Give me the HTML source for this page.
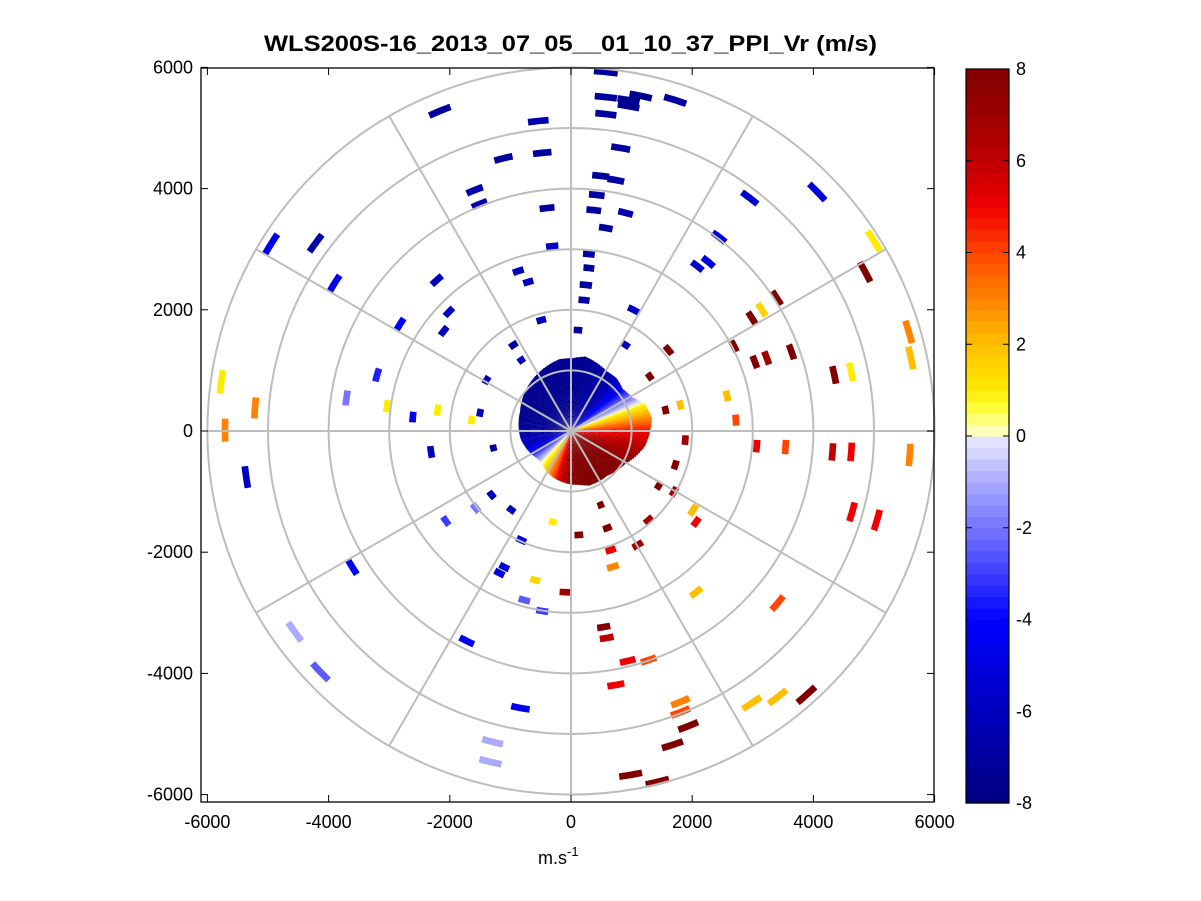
<!DOCTYPE html>
<html><head><meta charset="utf-8"><style>
body{margin:0;background:#fff;}
svg{display:block;font-family:"Liberation Sans",sans-serif;}
</style></head><body>
<svg id="c" width="1201" height="901"></svg>
<script>
const gateX=[-2165,-540,575,575,950,1150,1720,950,575,820,-1115,-475,490,740,-1590,-1510,-395,375,575,900,425,-310,295,295,245,215,-870,-705,-2215,-2015,-2100,
-4950,-4215,-3900,-2820,-3200,-3705,-3035,-2610,-2200,-2310,-5770,-5710,-5215,-5360,
4065,2950,2445,2265,2085,1030,
5000,4855,3395,3150,2985,2690,3640,3230,3035,4345,4625,5575,5610,2575,2720,3065,3540,4315,4625,5590,
5050,4640,2015,2065,2065,3410,690,655,540,590,935,1280,740,1805,1805,1935,1675,985,1425,2985,3410,3885,-100,-590,
-3610,-2065,-1575,-1180,-820,-770,-475,-1720,-835,-1295,-1330,-4560,-4135,-1100,
-950,-490,115,900,1610,1560,1805,1885,1720,1280,490,130,1100,-985,-1310,-1280,-1640,-1395,-820,1450,1300,-1500,1700,-300,600];
const gateY=[5280,5115,5925,5510,5460,5530,5460,5360,5230,4670,4500,4590,4210,4140,3975,3745,3680,3645,3350,3600,3895,3050,2920,2690,2410,2160,2640,2460,2490,1965,1650,
3085,3100,2440,1765,925,545,410,230,345,-345,810,15,380,-760,
3945,3845,3200,2790,2720,2000,
3135,2625,2195,2000,1865,1400,1305,1205,1140,925,975,1635,1205,580,180,-250,-265,-345,-345,-395,
-1470,-1335,-1305,-1500,-2660,-2840,-2240,-1965,-3235,-3415,-3795,-3780,-4190,-4470,-4640,-4870,-5180,-5675,-5790,-4490,-4390,-4355,-2660,-2460,
-2245,-1485,-1270,-2345,-1800,-2790,-2970,-3465,-4570,-5130,-5460,-3315,-3975,-2245,
1420,1830,1665,1420,1335,345,430,-150,-560,-1470,-1220,-1715,-1880,-1300,-1055,-280,180,840,1170,-900,900,300,-1000,-1500,-1600];
const gateV=[-7,-6.5,-7,-7,-7.5,-7.5,-7,-7.5,-7,-7,-7,-7,-7,-7,-6.5,-6.5,-7,-7,-7,-6.5,-7,-6,-7,-7,-7,-7,-6,-6,-6,-6,-6,
-4.5,-6.5,-4.5,-4,-3.5,-2,1,-4.5,1,-6,1,3,3,-6,
-5,-5.5,-5,-5,-5.5,-6,
1,8,8,1.5,8,8,8,7,8,8,1,3,2,2,4,5,4,6,5,3,
5,5,2,5,2,4,3,5,8,6,5,4,5,3,4,8,8,8,8,2,2,8,7,1.5,
-4,-3,-2,-5,-5,-2.5,-3,-4,-4.5,-1,-1,-1,-2.5,-5,
-7,-6,-7,-6,8,8,2,7,8,7,8,8,7,-6,-6,-7,1,-6,-6,8,8,-6,7,1,8];
const coreAz=[0,10,20,30,40,50,60,70,80,90,100,110,120,130,140,150,160,170,180,190,200,210,220,230,240,250,260,270,280,290,300,310,320,330,340,350];
const coreV=[-7.5,-7.5,-7,-7,-6,-4,-2,1,3,5,6,7,7.5,8,8,8,8,8,7.5,6,4,2,0.5,-1.5,-4,-5.5,-6.5,-7,-7.5,-7.5,-7.5,-7.5,-7.5,-7.5,-7.5,-7.5];
const coreR=[1200,1250,1200,1150,1150,1100,1150,1300,1350,1300,1250,1150,1050,1000,950,950,950,900,880,850,820,780,720,720,760,800,840,860,880,900,950,1000,1050,1100,1150,1200];
const xTicks=[-6000,-4000,-2000,0,2000,4000,6000];
const yTicks=[-6000,-4000,-2000,0,2000,4000,6000];
const cbTicks=[-8,-6,-4,-2,0,2,4,6,8];
const rings=[1000,2000,3000,4000,5000,6000];
const spokes=[0,30,60,90,120,150,180,210,240,270,300,330];

const NS="http://www.w3.org/2000/svg";
const svg=document.getElementById('c');
const X0=571,Y0=431,SX=0.0606,SY=0.0606;
const sx=v=>X0+v*SX, sy=v=>Y0-v*SY;
const cbTop=69,cbBot=803,cbL=966,cbR=1009;
const cbY=v=>cbBot-(v+8)/16*(cbBot-cbTop);
function mk(t,a,p){const e=document.createElementNS(NS,t);for(const k in a)e.setAttribute(k,a[k]);(p||svg).appendChild(e);return e;}
const anchors=[[-8,0,0,128],[-6,0,0,190],[-4,0,0,255],[-2.5,90,90,255],[-1,170,170,255],[0,235,235,255],[0.01,255,255,215],[0.6,255,255,60],[1,255,235,0],[2,255,190,0],[3,255,130,0],[4,255,70,0],[5,240,0,0],[6,190,0,0],[8,128,0,0]];
function col(v){v=Math.max(-8,Math.min(8,v));for(let i=0;i<anchors.length-1;i++){const a=anchors[i],b=anchors[i+1];if(v>=a[0]&&v<=b[0]){const t=(v-a[0])/(b[0]-a[0]||1);return `rgb(${Math.round(a[1]+t*(b[1]-a[1]))},${Math.round(a[2]+t*(b[2]-a[2]))},${Math.round(a[3]+t*(b[3]-a[3]))})`;}}return 'rgb(128,0,0)';}
function wedge(az1,az2,r1,r2){const p=[];const n=6;for(let i=0;i<=n;i++){const a=(az1+(az2-az1)*i/n)*Math.PI/180;p.push([sx(r2*Math.sin(a)),sy(r2*Math.cos(a))]);}for(let i=n;i>=0;i--){const a=(az1+(az2-az1)*i/n)*Math.PI/180;p.push([sx(r1*Math.sin(a)),sy(r1*Math.cos(a))]);}return p.map(q=>q[0].toFixed(1)+','+q[1].toFixed(1)).join(' ');}

const gData=mk('g',{});

const N=coreAz.length;
for(let i=0;i<N;i++){
  const j=(i+1)%N;
  for(let k=0;k<5;k++){
    const t=k/5;
    const v=coreV[i]+(coreV[j]-coreV[i])*t;
    const r=coreR[i]+(coreR[j]-coreR[i])*t;
    const a=coreAz[i]+10*t;
    const e=mk('polygon',{points:wedge(a-0.1,a+2.1,0,r),fill:col(v)},gData);
    
    
  }
}
for(let i=0;i<gateX.length;i++){
  const r=Math.hypot(gateX[i],gateY[i]);const az=Math.atan2(gateX[i],gateY[i])*180/Math.PI;
  const w=r<2500?2.4:1.9;
  const e=mk('polygon',{points:wedge(az-w,az+w,r-55,r+55),fill:col(gateV[i])},gData);
  
  
}
const gGrid=mk('g',{stroke:'#bdbdbd','stroke-width':2,fill:'none'});

rings.forEach(r=>{const e=mk('ellipse',{cx:X0,cy:Y0,rx:r*SX,ry:r*SY},gGrid);});
spokes.forEach(a=>{const t=a*Math.PI/180;const e=mk('line',{x1:X0,y1:Y0,x2:sx(6000*Math.sin(t)),y2:sy(6000*Math.cos(t))},gGrid);});
const box=mk('rect',{x:201,y:68,width:733,height:734,fill:'none',stroke:'#000','stroke-width':1.3});

xTicks.forEach(v=>{const x=sx(v);mk('line',{x1:x,y1:802,x2:x,y2:795,stroke:'#000'});mk('line',{x1:x,y1:68,x2:x,y2:75,stroke:'#000'});
 const t=mk('text',{x:x,y:828,'text-anchor':'middle','font-size':18});t.textContent=v;});
yTicks.forEach(v=>{const y=sy(v);mk('line',{x1:201,y1:y,x2:208,y2:y,stroke:'#000'});mk('line',{x1:934,y1:y,x2:927,y2:y,stroke:'#000'});
 const t=mk('text',{x:193,y:y+6,'text-anchor':'end','font-size':18});t.textContent=v;});
const gCb=mk('g',{});
for(let i=0;i<64;i++){const v0=-8+i*0.25;const y1=cbY(v0+0.25),y2=cbY(v0);const e=mk('rect',{x:cbL,y:y1,width:cbR-cbL,height:y2-y1+0.6,fill:col(v0+0.125)},gCb);}
mk('rect',{x:cbL,y:cbTop,width:cbR-cbL,height:cbBot-cbTop,fill:'none',stroke:'#000','stroke-width':1.2},gCb);
cbTicks.forEach(v=>{const y=cbY(v);mk('line',{x1:cbL,y1:y,x2:cbL+6,y2:y,stroke:'#000'},gCb);mk('line',{x1:cbR,y1:y,x2:cbR-6,y2:y,stroke:'#000'},gCb);
 const t=mk('text',{x:1016,y:y+6,'font-size':18},gCb);t.textContent=v;});
</script>
<svg style="position:absolute;left:0;top:0" width="1201" height="901">
<text x="264" y="51" font-size="22" font-weight="bold" textLength="613" lengthAdjust="spacingAndGlyphs" font-family="Liberation Sans,sans-serif">WLS200S-16_2013_07_05__01_10_37_PPI_Vr (m/s)</text>
<text x="538" y="864" font-size="18" font-family="Liberation Sans,sans-serif">m.s<tspan dy="-8" font-size="13">-1</tspan></text>
</svg>
</body></html>
